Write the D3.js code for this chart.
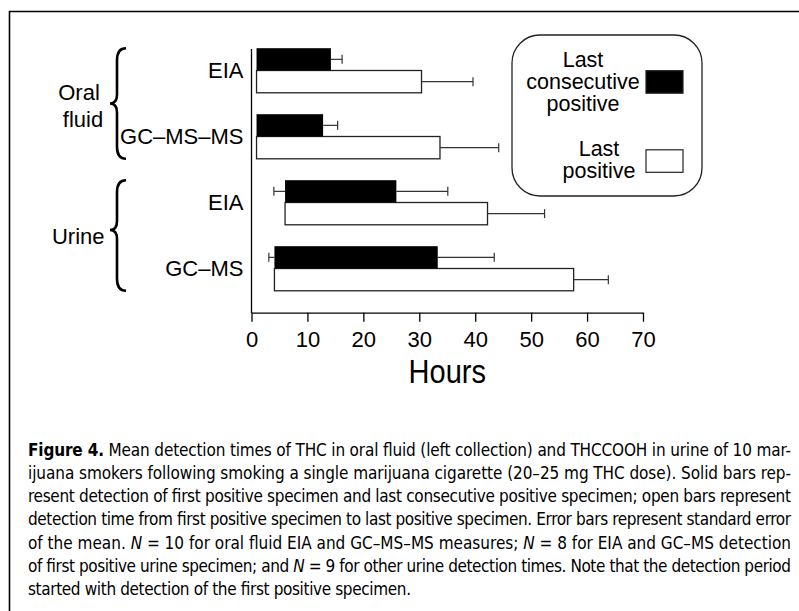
<!DOCTYPE html>
<html>
<head>
<meta charset="utf-8">
<script src="https://cdn.jsdelivr.net/npm/d3@7"></script>
<style>
  body { margin: 0; background: #fff; }
  text { font-family: "Liberation Sans", Arial, Helvetica, sans-serif; fill: #000; }
  .caption text { font-family: "DejaVu Sans Condensed", "Liberation Sans Narrow", sans-serif; }
</style>
</head>
<body>
<div id="chart"></div>
<script>
// data (hours)
var categories = ["EIA", "GC–MS–MS", "EIA", "GC–MS"];
var groups = ["Oral fluid", "Urine"];
var groupRows = [[0, 1], [2, 3]];
var firstPositive = [0.9, 0.9, 6.0, 4.1];
var firstPositiveErr = [0, 0, 2.0, 1.0];
var lastConsecutive = [14.2, 12.8, 25.9, 33.3];
var lastConsecutiveErr = [2.0, 2.6, 9.2, 10.1];
var lastPositive = [30.4, 33.7, 42.2, 57.6];
var lastPositiveErr = [9.2, 10.5, 10.2, 6.2];
var xTicks = [0, 10, 20, 30, 40, 50, 60, 70];
var legendLabels = [["Last", "consecutive", "positive"], ["Last", "positive"]];
var captionLines = [
    [["b", "Figure 4."], ["", " Mean detection times of THC in oral fluid (left collection) and THCCOOH in urine of 10 mar-"]],
    [["", "ijuana smokers following smoking a single marijuana cigarette (20–25 mg THC dose). Solid bars rep-"]],
    [["", "resent detection of first positive specimen and last consecutive positive specimen; open bars represent"]],
    [["", "detection time from first positive specimen to last positive specimen. Error bars represent standard error"]],
    [["", "of the mean. "], ["i", "N"], ["", " = 10 for oral fluid EIA and GC–MS–MS measures; "], ["i", "N"], ["", " = 8 for EIA and GC–MS detection"]],
    [["", "of first positive urine specimen; and "], ["i", "N"], ["", " = 9 for other urine detection times. Note that the detection period"]],
    [["", "started with detection of the first positive specimen."]]
];

var width = 799,
    height = 611,
    barH = 22.3;

var svg = d3.select("#chart")
    .append("svg")
    .attr("width", width)
    .attr("height", height);

// frame (top and left edges only)
svg.append("path")
    .attr("d", "M9.5,611 L9.5,11.5 L799,11.5")
    .attr("fill", "none")
    .attr("stroke", "#000")
    .attr("stroke-width", 1.6);

var x = d3.scaleLinear()
    .domain([0, 70])
    .range([251.5, 643]);

var y = d3.scalePoint()
    .domain(d3.range(categories.length))
    .range([70.5, 268.5]);

var rows = d3.range(categories.length);

// open bars: first positive -> last positive
svg.append("g")
    .selectAll("rect")
    .data(rows)
    .enter().append("rect")
    .attr("x", function (i) { return x(firstPositive[i]); })
    .attr("y", function (i) { return y(i); })
    .attr("width", function (i) { return x(lastPositive[i]) - x(firstPositive[i]); })
    .attr("height", barH)
    .attr("fill", "#fff")
    .attr("stroke", "#222")
    .attr("stroke-width", 1.3);

// solid bars: first positive -> last consecutive positive
svg.append("g")
    .selectAll("rect")
    .data(rows)
    .enter().append("rect")
    .attr("x", function (i) { return x(firstPositive[i]); })
    .attr("y", function (i) { return y(i) - barH; })
    .attr("width", function (i) { return x(lastConsecutive[i]) - x(firstPositive[i]); })
    .attr("height", barH)
    .attr("fill", "#000");

// error bars
var errs = [];
rows.forEach(function (i) {
    errs.push({ from: lastConsecutive[i], to: lastConsecutive[i] + lastConsecutiveErr[i], cy: y(i) - barH / 2 });
    errs.push({ from: lastPositive[i], to: lastPositive[i] + lastPositiveErr[i], cy: y(i) + barH / 2 });
    if (firstPositiveErr[i] > 0) {
        errs.push({ from: firstPositive[i], to: firstPositive[i] - firstPositiveErr[i], cy: y(i) - barH / 2 });
    }
});

var eg = svg.append("g")
    .attr("stroke", "#333")
    .attr("stroke-width", 1.2);

eg.selectAll(".whisker")
    .data(errs)
    .enter().append("line")
    .attr("x1", function (d) { return x(d.from); })
    .attr("x2", function (d) { return x(d.to); })
    .attr("y1", function (d) { return d.cy; })
    .attr("y2", function (d) { return d.cy; });

eg.selectAll(".cap")
    .data(errs)
    .enter().append("line")
    .attr("x1", function (d) { return x(d.to); })
    .attr("x2", function (d) { return x(d.to); })
    .attr("y1", function (d) { return d.cy - 4.5; })
    .attr("y2", function (d) { return d.cy + 4.5; });

// y axis line
svg.append("line")
    .attr("x1", x(0)).attr("x2", x(0))
    .attr("y1", 49).attr("y2", 313)
    .attr("stroke", "#000")
    .attr("stroke-width", 1.3);

// x axis
var xAxis = svg.append("g")
    .attr("transform", "translate(0,312.7)")
    .call(d3.axisBottom(x).tickValues(xTicks).tickSize(9).tickSizeOuter(0).tickPadding(10));

xAxis.select(".domain").attr("stroke", "#000").attr("stroke-width", 1.3);
xAxis.selectAll(".tick line").attr("stroke", "#000").attr("stroke-width", 1.3);
xAxis.selectAll(".tick text")
    .attr("fill", "#000")
    .style("font-family", "'Liberation Sans', Arial, sans-serif")
    .style("font-size", "22px");

svg.append("text")
    .attr("transform", "translate(" + (x(0) + x(70)) / 2 + ",383) scale(1,1.15)")
    .attr("text-anchor", "middle")
    .style("font-size", "29px")
    .text("Hours");

// category labels
svg.append("g")
    .selectAll("text")
    .data(rows)
    .enter().append("text")
    .attr("x", 243.5)
    .attr("y", function (i) { return y(i); })
    .attr("dy", "0.36em")
    .attr("text-anchor", "end")
    .style("font-size", "22px")
    .text(function (i) { return categories[i]; });

// curly braces for groups
function brace(sx, y0, y1, ym) {
    return "M" + (sx + 9) + "," + y0 +
        " Q" + sx + "," + y0 + " " + sx + "," + (y0 + 12) +
        " L" + sx + "," + (ym - 9) +
        " Q" + sx + "," + ym + " " + (sx - 7) + "," + ym +
        " Q" + sx + "," + ym + " " + sx + "," + (ym + 9) +
        " L" + sx + "," + (y1 - 12) +
        " Q" + sx + "," + y1 + " " + (sx + 9) + "," + y1;
}

groupRows.forEach(function (r, gi) {
    var top = y(r[0]) - barH,
        bot = y(r[r.length - 1]) + barH,
        mid = gi === 0 ? (top + bot) / 2 : 230;
    svg.append("path")
        .attr("d", brace(117, top, bot, mid))
        .attr("fill", "none")
        .attr("stroke", "#000")
        .attr("stroke-width", 2.6);
});

// group labels
var words0 = groups[0].split(" ");
svg.append("text")
    .attr("text-anchor", "middle")
    .style("font-size", "22px")
    .selectAll("tspan")
    .data(words0)
    .enter().append("tspan")
    .attr("x", function (d, i) { return i === 0 ? 79 : 83; })
    .attr("y", function (d, i) { return 100 + i * 26.7; })
    .text(function (d) { return d; });

svg.append("text")
    .attr("x", 104.5)
    .attr("y", 244.3)
    .attr("text-anchor", "end")
    .style("font-size", "22px")
    .text(groups[1]);

// legend
var lg = svg.append("g");
lg.append("rect")
    .attr("x", 512).attr("y", 35)
    .attr("width", 190).attr("height", 161)
    .attr("rx", 28).attr("ry", 28)
    .attr("fill", "#fff")
    .attr("stroke", "#222")
    .attr("stroke-width", 1.3);

var legendCx = [583, 599],
    legendY0 = [67, 155.8],
    legendStep = [22.2, 22.2],
    swatchY = [70.7, 149.8],
    swatchFill = ["#000", "#fff"];

legendLabels.forEach(function (lines, k) {
    lg.append("text")
        .attr("text-anchor", "middle")
        .style("font-size", "21.5px")
        .selectAll("tspan")
        .data(lines)
        .enter().append("tspan")
        .attr("x", legendCx[k])
        .attr("y", function (d, i) { return legendY0[k] + i * legendStep[k]; })
        .text(function (d) { return d; });
    lg.append("rect")
        .attr("x", 646).attr("y", swatchY[k])
        .attr("width", 37).attr("height", 22.5)
        .attr("fill", swatchFill[k])
        .attr("stroke", "#222")
        .attr("stroke-width", 1.2);
});

// caption (justified lines)
var cap = svg.append("g").attr("class", "caption");
captionLines.forEach(function (parts, li) {
    var t = cap.append("text")
        .attr("x", 28)
        .attr("y", 455.5 + li * 23.3)
        .style("font-size", "17px")
        .attr("fill", "#222")
        .attr("textLength", li < captionLines.length - 1 ? 763 : 383)
        .attr("lengthAdjust", "spacing");
    parts.forEach(function (p) {
        t.append("tspan")
            .style("font-weight", p[0] === "b" ? "bold" : null)
            .style("font-style", p[0] === "i" ? "italic" : null)
            .text(p[1]);
    });
});
</script>
</body>
</html>
